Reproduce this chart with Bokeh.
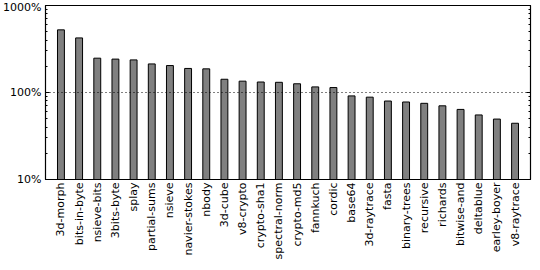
from math import pi
from bokeh.plotting import figure
from bokeh.models import Range1d, FixedTicker, Span, LogAxis, ColumnDataSource
from bokeh.embed import file_html
from bokeh.resources import INLINE

benchmarks = ["3d-morph", "bits-in-byte", "nsieve-bits", "3bits-byte", "splay",
              "partial-sums", "nsieve", "navier-stokes", "nbody", "3d-cube",
              "v8-crypto", "crypto-sha1", "spectral-norm", "crypto-md5", "fannkuch",
              "cordic", "base64", "3d-raytrace", "fasta", "binary-trees",
              "recursive", "richards", "bitwise-and", "deltablue", "earley-boyer",
              "v8-raytrace"]
ratios = [525, 424, 248, 242, 237, 213, 204, 189, 187, 142, 135, 132, 131, 126,
          116, 114, 91.4, 88.4, 79.8, 77.8, 75.1, 70.3, 63.9, 55.2, 49.5, 44.3]
y_ticks = [10, 100, 1000]
y_tick_labels = ["10%", "100%", "1000%"]
reference_level = 100

FONT = "DejaVu Sans"
FS = "11px"

idx = list(range(len(benchmarks)))
src = ColumnDataSource(dict(x=idx, top=ratios, bottom=[y_ticks[0]] * len(idx)))

p = figure(width=532, height=262, output_backend="svg", toolbar_location=None,
           y_axis_type="log",
           x_range=Range1d(-0.85, len(benchmarks) - 1 + 0.85),
           y_range=Range1d(y_ticks[0], y_ticks[-1]),
           min_border_left=0, min_border_right=2, min_border_top=5, min_border_bottom=0)

p.vbar(x="x", top="top", bottom="bottom", width=0.38, source=src,
       fill_color="#808080", line_color="black", line_width=1)

p.add_layout(Span(location=reference_level, dimension="width", line_color="black",
                  line_width=1, line_dash="1 3"))

p.xgrid.visible = False
p.ygrid.visible = False
p.outline_line_color = "black"
p.outline_line_alpha = 1
p.outline_line_width = 1.2
p.background_fill_color = "white"
p.border_fill_color = "white"

minor = []
for d in y_ticks[:-1]:
    minor += [d * k for k in range(2, 10)]

xa = p.xaxis[0]
xa.ticker = FixedTicker(ticks=idx)
xa.major_label_overrides = {i: n for i, n in zip(idx, benchmarks)}
xa.major_label_orientation = pi / 2
xa.major_tick_in = 0
xa.major_tick_out = 0
xa.minor_tick_in = 0
xa.minor_tick_out = 0
xa.major_label_standoff = 3
xa.major_label_text_font = FONT
xa.major_label_text_font_size = FS
xa.major_label_text_color = "black"
xa.axis_line_color = "black"

ya = p.yaxis[0]
ya.ticker = FixedTicker(ticks=y_ticks, minor_ticks=minor)
ya.major_label_overrides = {t: l for t, l in zip(y_ticks, y_tick_labels)}
ya.major_tick_in = 4
ya.major_tick_out = 0
ya.minor_tick_in = 2
ya.minor_tick_out = 0
ya.major_tick_line_color = "black"
ya.minor_tick_line_color = "black"
ya.major_label_standoff = 4
ya.major_label_text_font = FONT
ya.major_label_text_font_size = FS
ya.major_label_text_color = "black"
ya.axis_line_color = "black"

ra = LogAxis(ticker=FixedTicker(ticks=y_ticks, minor_ticks=minor))
ra.major_label_overrides = {t: " " for t in y_ticks}
ra.major_label_text_font_size = "1px"
ra.major_label_text_alpha = 0
ra.major_label_standoff = 0
ra.major_tick_in = 4
ra.major_tick_out = 0
ra.minor_tick_in = 2
ra.minor_tick_out = 0
ra.major_tick_line_color = "black"
ra.minor_tick_line_color = "black"
ra.axis_line_color = "black"
p.add_layout(ra, "right")

open("out.html", "w").write(file_html(p, INLINE))
